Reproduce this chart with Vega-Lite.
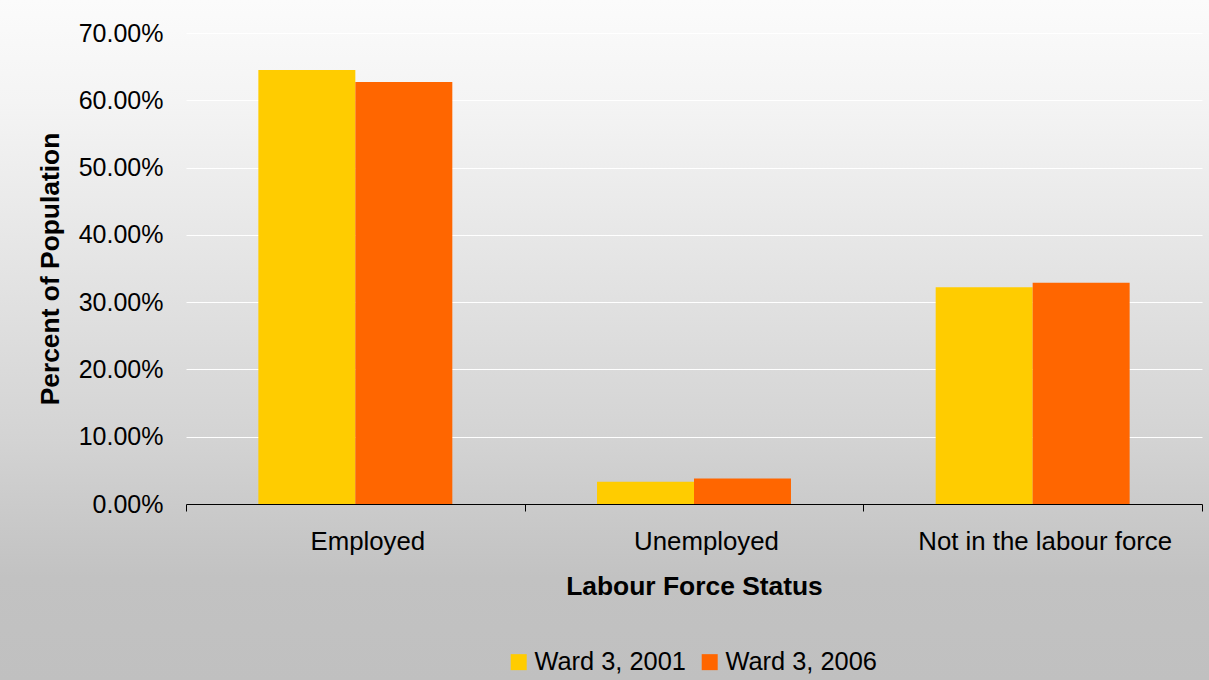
{
  "$schema": "https://vega.github.io/schema/vega-lite/v6.json",
  "width": 1209,
  "height": 680,
  "autosize": "none",
  "padding": 0,
  "background": "#c0c0c0",
  "data": {
    "values": [
      {"status": "Employed", "series": "Ward 3, 2001", "share": 0.645},
      {"status": "Employed", "series": "Ward 3, 2006", "share": 0.627},
      {"status": "Unemployed", "series": "Ward 3, 2001", "share": 0.033},
      {"status": "Unemployed", "series": "Ward 3, 2006", "share": 0.038},
      {"status": "Not in the labour force", "series": "Ward 3, 2001", "share": 0.322},
      {"status": "Not in the labour force", "series": "Ward 3, 2006", "share": 0.329}
    ]
  },
  "mark": {"type": "bar"},
  "encoding": {
    "x": {
      "field": "status",
      "type": "nominal",
      "sort": ["Employed", "Unemployed", "Not in the labour force"],
      "scale": {"range": [186, 1202], "paddingInner": 0, "paddingOuter": 0},
      "axis": {
        "title": "Labour Force Status",
        "offset": -176,
        "labelAngle": 0,
        "labelLimit": 0,
        "labelFontSize": 25.8,
        "labelOffset": 12,
        "tickBand": "extent",
        "tickSize": 7,
        "tickColor": "#000000",
        "domainColor": "#000000",
        "labelPadding": 18,
        "titlePadding": 20,
        "grid": false
      }
    },
    "xOffset": {
      "field": "series",
      "type": "nominal",
      "sort": ["Ward 3, 2001", "Ward 3, 2006"],
      "scale": {"paddingInner": 0, "paddingOuter": 0.746}
    },
    "y": {
      "field": "share",
      "type": "quantitative",
      "scale": {"domain": [0, 0.7], "range": [504, 33], "nice": false},
      "axis": {
        "title": "Percent of Population",
        "format": ".2%",
        "offset": -186,
        "values": [0, 0.1, 0.2, 0.3, 0.4, 0.5, 0.6, 0.7],
        "domain": false,
        "ticks": false,
        "labelPadding": 23,
        "titlePadding": 14,
        "gridColor": "#ffffff",
        "gridOpacity": 1,
        "gridWidth": 1
      }
    },
    "color": {
      "field": "series",
      "type": "nominal",
      "sort": ["Ward 3, 2001", "Ward 3, 2006"],
      "scale": {"range": ["#ffcc00", "#ff6600"]},
      "legend": {
        "title": null,
        "orient": "none",
        "direction": "horizontal",
        "legendX": 506,
        "legendY": 649,
        "padding": 0,
        "symbolType": "square",
        "symbolSize": 256,
        "symbolStrokeWidth": 0,
        "symbolOpacity": 1,
        "labelFontSize": 25.4,
        "labelOffset": 3,
        "columnPadding": 11,
        "labelColor": "#000000"
      }
    }
  },
  "config": {
    "font": "Liberation Sans",
    "view": {
      "stroke": null,
      "fill": {
        "gradient": "linear",
        "x1": 0, "y1": 0, "x2": 0, "y2": 1,
        "stops": [
          {"offset": 0, "color": "#fbfbfb"},
          {"offset": 0.15, "color": "#f4f4f4"},
          {"offset": 0.65, "color": "#d3d3d3"},
          {"offset": 0.74, "color": "#cbcbcb"},
          {"offset": 0.85, "color": "#c2c2c2"},
          {"offset": 1, "color": "#c0c0c0"}
        ]
      }
    },
    "axis": {
      "labelFontSize": 25,
      "labelColor": "#000000",
      "titleFontSize": 26.4,
      "titleFontWeight": "bold",
      "titleColor": "#000000"
    }
  }
}
